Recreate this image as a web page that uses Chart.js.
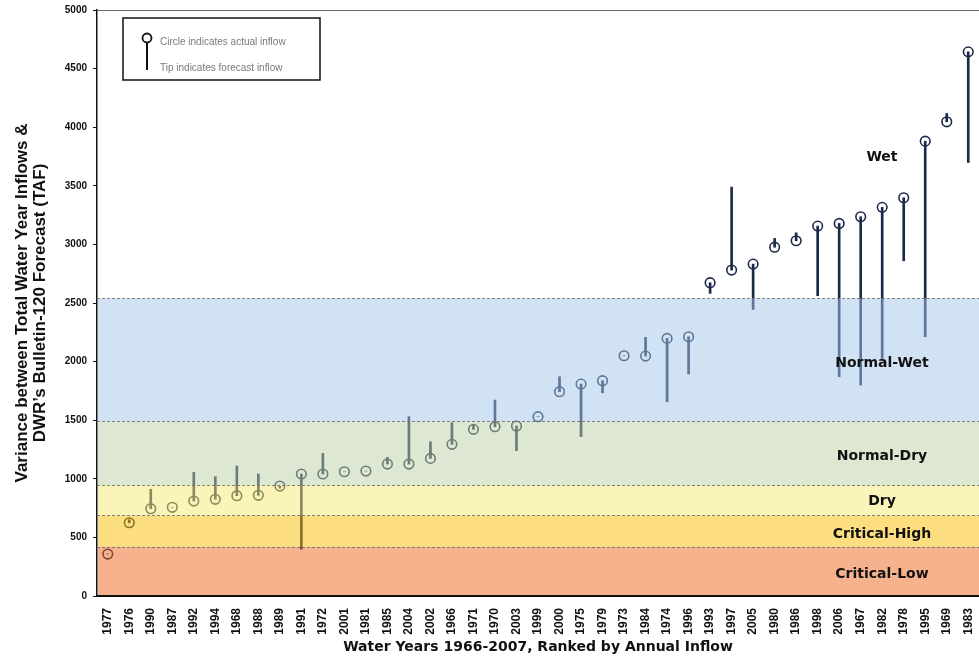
<!DOCTYPE html>
<html>
<head>
<meta charset="utf-8">
<script src="https://cdn.jsdelivr.net/npm/chart.js@4.4.1/dist/chart.umd.min.js"></script>
<style>
  html, body { margin: 0; padding: 0; background: #ffffff; }
  #wrap { width: 979px; height: 659px; }
</style>
</head>
<body>
<div id="wrap"><canvas id="c" width="979" height="659"></canvas></div>
<script>
// Water years, ranked by total annual inflow (TAF)
const waterYears = ['1977','1976','1990','1987','1992','1994','1968','1988','1989','1991',
                    '1972','2001','1981','1985','2004','2002','1966','1971','1970','2003',
                    '1999','2000','1975','1979','1973','1984','1974','1996','1993','1997',
                    '2005','1980','1986','1998','2006','1967','1982','1978','1995','1969','1983'];

// Actual water-year inflow (circle)
const actualInflow = [358, 625, 745, 757, 810, 825, 856, 859, 938, 1041,
                      1041, 1060, 1066, 1126, 1126, 1174, 1294, 1422, 1444, 1450,
                      1530, 1743, 1808, 1837, 2050, 2047, 2198, 2212, 2673, 2781,
                      2832, 2976, 3031, 3156, 3179, 3236, 3316, 3398, 3881, 4046, 4643];

// Bulletin-120 forecast inflow (tip of the stem)
const forecastInflow = [358, 650, 910, 757, 1055, 1018, 1109, 1041, 920, 400,
                        1217, 1060, 1066, 1183, 1530, 1316, 1478, 1459, 1672, 1240,
                        1530, 1871, 1360, 1734, 2050, 2207, 1657, 1894, 2582, 3489,
                        2445, 3051, 3099, 2562, 1871, 1800, 2027, 2860, 2212, 4117, 3699];

// Year-type classification limits (TAF)
const classNames  = ['Critical-Low', 'Critical-High', 'Dry', 'Normal-Dry', 'Normal-Wet', 'Wet'];
const classLimits = [0, 421, 687, 947, 1490, 2540, 5000];

const yTickStep = 500;
const yMax = 5000;

const NAVY = '#1c2a4a';

// Band tints are laid over the marks, so marks inside a band pick up its colour
const bandTints = [
  'rgba(237,99,27,0.5)',
  'rgba(249,189,2,0.5)',
  'rgba(247,233,115,0.5)',
  'rgba(187,207,165,0.5)',
  'rgba(161,197,231,0.5)',
  null
];

const stems = actualInflow.map((a, i) => [a, forecastInflow[i]]);

const bandsPlugin = {
  id: 'classBands',
  afterDatasetsDraw(chart) {
    const { ctx, chartArea: ca, scales: { y } } = chart;
    ctx.save();
    ctx.beginPath();
    ctx.rect(ca.left + 1, ca.top, ca.right - ca.left, ca.bottom - ca.top - 1);
    ctx.clip();

    // tinted bands
    for (let i = 0; i < classNames.length; i++) {
      if (!bandTints[i]) continue;
      const yTop = y.getPixelForValue(classLimits[i + 1]);
      const yBot = y.getPixelForValue(classLimits[i]);
      ctx.fillStyle = bandTints[i];
      ctx.fillRect(ca.left, yTop, ca.right - ca.left, yBot - yTop);
    }

    // dashed boundaries
    ctx.strokeStyle = 'rgba(110,110,110,0.85)';
    ctx.lineWidth = 1;
    ctx.setLineDash([3, 2]);
    for (let i = 1; i < classLimits.length - 1; i++) {
      const py = Math.round(y.getPixelForValue(classLimits[i])) + 0.5;
      ctx.beginPath();
      ctx.moveTo(ca.left, py);
      ctx.lineTo(ca.right, py);
      ctx.stroke();
    }
    ctx.setLineDash([]);
    ctx.restore();

    // class labels
    ctx.save();
    ctx.fillStyle = '#111';
    ctx.font = 'bold 14px "DejaVu Sans", sans-serif';
    ctx.textAlign = 'center';
    ctx.textBaseline = 'middle';
    const lx = ca.left + (ca.right - ca.left) * 0.89;
    const labelOffsets = [-22, -25, -12, -30, -30, 0];
    for (let i = 0; i < classNames.length; i++) {
      const v = (i === classNames.length - 1) ? 3745 : (classLimits[i] + classLimits[i + 1]) / 2 + labelOffsets[i];
      ctx.fillText(classNames[i], lx, y.getPixelForValue(v));
    }
    ctx.restore();

    // top frame line
    ctx.save();
    ctx.strokeStyle = '#6a6a6a';
    ctx.lineWidth = 1;
    ctx.beginPath();
    ctx.moveTo(ca.left, ca.top + 0.5);
    ctx.lineTo(ca.right, ca.top + 0.5);
    ctx.stroke();
    ctx.restore();

    // key box
    ctx.save();
    const bx = ca.left + 26, by = ca.top + 8;
    ctx.fillStyle = '#fff';
    ctx.fillRect(bx, by, 197, 62);
    ctx.strokeStyle = '#111';
    ctx.lineWidth = 1.5;
    ctx.strokeRect(bx, by, 197, 62);
    ctx.strokeStyle = '#111';
    ctx.lineWidth = 2;
    ctx.beginPath();
    ctx.moveTo(bx + 24, by + 21);
    ctx.lineTo(bx + 24, by + 52);
    ctx.stroke();
    ctx.lineWidth = 1.8;
    ctx.fillStyle = '#fff';
    ctx.beginPath();
    ctx.arc(bx + 24, by + 20, 4.5, 0, Math.PI * 2);
    ctx.fill();
    ctx.stroke();
    ctx.fillStyle = '#7a7a7a';
    ctx.font = '10px "Liberation Sans", sans-serif';
    ctx.textAlign = 'left';
    ctx.textBaseline = 'middle';
    ctx.fillText('Circle indicates actual inflow', bx + 37, by + 24);
    ctx.fillText('Tip indicates forecast inflow', bx + 37, by + 50);
    ctx.restore();
  }
};

new Chart(document.getElementById('c'), {
  type: 'bar',
  data: {
    labels: waterYears,
    datasets: [
      {
        label: 'Forecast',
        data: stems,
        backgroundColor: NAVY,
        borderWidth: 0,
        borderSkipped: false,
        barThickness: 2,
        order: 1
      },
      {
        type: 'line',
        label: 'Actual',
        data: actualInflow,
        showLine: false,
        pointStyle: 'circle',
        pointRadius: 4.8,
        pointBorderWidth: 1.6,
        pointBackgroundColor: '#ffffff',
        pointBorderColor: NAVY,
        order: 2
      }
    ]
  },
  options: {
    responsive: false,
    animation: false,
    devicePixelRatio: 1,
    layout: { autoPadding: false, padding: { top: 10, right: 0, bottom: 0, left: 0 } },
    plugins: {
      legend: { display: false },
      tooltip: { enabled: false }
    },
    scales: {
      x: {
        grid: { display: false },
        border: { display: true, color: '#111', width: 2 },
        ticks: {
          autoSkip: false,
          maxRotation: 90,
          minRotation: 90,
          padding: 4,
          color: '#111',
          font: { family: '"Liberation Sans", Arial, sans-serif', size: 12, weight: 'bold' }
        },
        title: {
          display: true,
          text: 'Water Years 1966-2007, Ranked by Annual Inflow',
          color: '#111',
          font: { family: '"DejaVu Sans", sans-serif', size: 14, weight: 'bold' },
          padding: { top: 0, bottom: 3 }
        },
        afterFit(scale) {
          scale.height = 63;
          scale.paddingLeft = 0;
          scale.paddingRight = 0;
        }
      },
      y: {
        min: 0,
        max: yMax,
        grid: { display: true, drawOnChartArea: false, drawTicks: true, tickLength: 4, color: '#111' },
        border: { display: true, color: '#111', width: 1.5 },
        ticks: {
          stepSize: yTickStep,
          padding: 6,
          color: '#111',
          callback: (v) => String(v),
          font: { family: '"Liberation Sans", Arial, sans-serif', size: 10, weight: 'bold' }
        },
        title: {
          display: true,
          text: ['Variance between Total Water Year Inflows &', 'DWR\u2019s Bulletin-120 Forecast (TAF)'],
          color: '#111',
          font: { family: '"Liberation Sans", Arial, sans-serif', size: 17, weight: 'bold', lineHeight: '18px' },
          padding: { top: 13, bottom: 0 }
        },
        afterFit(scale) {
          scale.width = 97;
          scale.paddingTop = 0;
          scale.paddingBottom = 0;
        }
      }
    }
  },
  plugins: [bandsPlugin]
});
</script>
</body>
</html>
